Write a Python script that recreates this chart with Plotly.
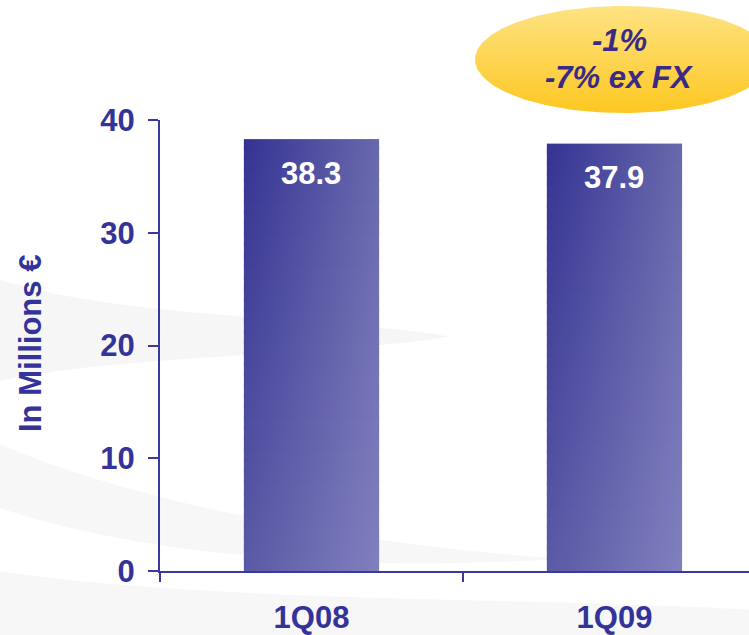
import numpy as np
import plotly.graph_objects as go

# Quarterly figures (millions of euros)
quarters = ["1Q08", "1Q09"]
values = [38.3, 37.9]
value_labels = ["38.3", "37.9"]
change_lines = ["-1%", "-7% ex FX"]
y_ticks = [0, 10, 20, 30, 40]

W, H = 749, 635
NAVY = "#333399"
AXIS = "#3a3a9c"
FONT = "Liberation Sans, Arial, sans-serif"
FS = 31

# bar gradient corners: top-left, top-right, bottom-left, bottom-right
TL, TR = (52, 51, 147), (104, 104, 172)
BL, BR = (89, 89, 165), (128, 128, 191)
BAR_W = 0.446
X_RANGE = [-0.5, 1.444]


def mix(a, b, t):
    return "rgb(%d,%d,%d)" % tuple(round(a[k] + (b[k] - a[k]) * t) for k in range(3))


fig = go.Figure()

# base bars on the category axis
fig.add_trace(go.Bar(
    x=quarters, y=values, width=BAR_W, marker=dict(color=mix(BL, BR, 0.5), line_width=0),
    hoverinfo="skip", showlegend=False, xaxis="x", yaxis="y",
))

# gradient overlay: each bar is filled with horizontal strips whose
# left-to-right gradient darkens toward the top
N = 40
for i, v in enumerate(values):
    x0, x1 = i - BAR_W / 2, i + BAR_W / 2
    for j in range(N):
        y0 = v * j / N
        y1 = v * (j + 1) / N
        if j < N - 1:
            y1 += v / N * 0.4
        t = (j + 0.5) / N
        fig.add_trace(go.Scatter(
            x=[x0, x1, x1, x0, x0], y=[y0, y0, y1, y1, y0],
            mode="lines", line=dict(width=0), fill="toself",
            fillgradient=dict(type="horizontal",
                              colorscale=[[0, mix(BL, TL, t)], [1, mix(BR, TR, t)]]),
            hoverinfo="skip", showlegend=False, xaxis="x2", yaxis="y",
        ))

# yellow callout oval, drawn in a page-pixel coordinate layer
th = np.linspace(0, 2 * np.pi, 200)
cx, cy, rx, ry = 623, 59.5, 148, 53.5
fig.add_trace(go.Scatter(
    x=cx + rx * np.cos(th), y=cy + ry * np.sin(th),
    mode="lines", line=dict(width=0), fill="toself",
    fillgradient=dict(type="vertical", colorscale=[[0, "#fdc722"], [1, "#fee383"]]),
    hoverinfo="skip", showlegend=False, xaxis="x3", yaxis="y3",
))

annotations = []
for q, v, lab in zip(quarters, values, value_labels):
    annotations.append(dict(
        x=q, y=v, xref="x", yref="y", text="<b>%s</b>" % lab, showarrow=False,
        yanchor="middle", yshift=-34, font=dict(family=FONT, size=FS, color="white"),
    ))

for k, line in enumerate(change_lines):
    annotations.append(dict(
        x=619, y=40.5 + 37 * k, xref="x3", yref="y3", text="<b><i>%s</i></b>" % line,
        showarrow=False, xanchor="center", yanchor="middle",
        font=dict(family=FONT, size=FS, color="#3a2a86"),
    ))

annotations.append(dict(
    x=30 / W, y=(H - 344) / H, xref="paper", yref="paper", text="<b>In Millions €</b>",
    textangle=-90, showarrow=False, xanchor="center", yanchor="middle",
    font=dict(family=FONT, size=FS, color=NAVY),
))

# faint grey swirl in the backdrop
shapes = [
    dict(type="path", xref="paper", yref="paper", layer="below", line_width=0,
         fillcolor="rgba(225,225,225,0.30)",
         path="M 0,0.56 C 0.15,0.50 0.45,0.50 0.60,0.47 C 0.45,0.44 0.15,0.44 0,0.40 Z"),
    dict(type="path", xref="paper", yref="paper", layer="below", line_width=0,
         fillcolor="rgba(225,225,225,0.25)",
         path="M 0,0.30 C 0.20,0.20 0.50,0.14 0.75,0.12 C 0.50,0.10 0.20,0.12 0,0.20 Z"),
    dict(type="path", xref="paper", yref="paper", layer="below", line_width=0,
         fillcolor="rgba(230,230,230,0.30)",
         path="M 0,0.10 C 0.30,0.05 0.70,0.06 1,0.04 L 1,0 L 0,0 Z"),
]

tick_font = dict(family=FONT, size=FS, color=NAVY)
fig.update_layout(
    width=W, height=H, margin=dict(l=0, r=0, t=0, b=0, pad=0), autosize=False,
    paper_bgcolor="white", plot_bgcolor="rgba(0,0,0,0)",
    showlegend=False, annotations=annotations, shapes=shapes,
    xaxis=dict(
        domain=[160 / W, 1], type="category", range=X_RANGE, automargin=False,
        showline=True, linecolor=AXIS, linewidth=2,
        ticks="outside", tickson="boundaries", ticklen=9, tickcolor=AXIS, tickwidth=2,
        tickfont=tick_font, tickprefix="<b>", ticksuffix="</b>",
        showgrid=False, zeroline=False, ticklabelstandoff=18,
    ),
    xaxis2=dict(overlaying="x", range=X_RANGE, visible=False, showgrid=False,
                automargin=False),
    yaxis=dict(
        domain=[(H - 571) / H, (H - 120) / H], range=[0, 40], automargin=False,
        tickvals=y_ticks, ticktext=["<b>%d</b>" % t for t in y_ticks],
        showline=True, linecolor=AXIS, linewidth=2,
        ticks="outside", ticklen=10, tickcolor=AXIS, tickwidth=2,
        tickfont=tick_font, showgrid=False, zeroline=False, ticklabelstandoff=7,
    ),
    xaxis3=dict(domain=[0, 1], range=[0, W], visible=False, anchor="y3",
                fixedrange=True, automargin=False),
    yaxis3=dict(domain=[0, 1], range=[H, 0], visible=False, anchor="x3",
                fixedrange=True, automargin=False),
)

fig.write_html("out.html")
